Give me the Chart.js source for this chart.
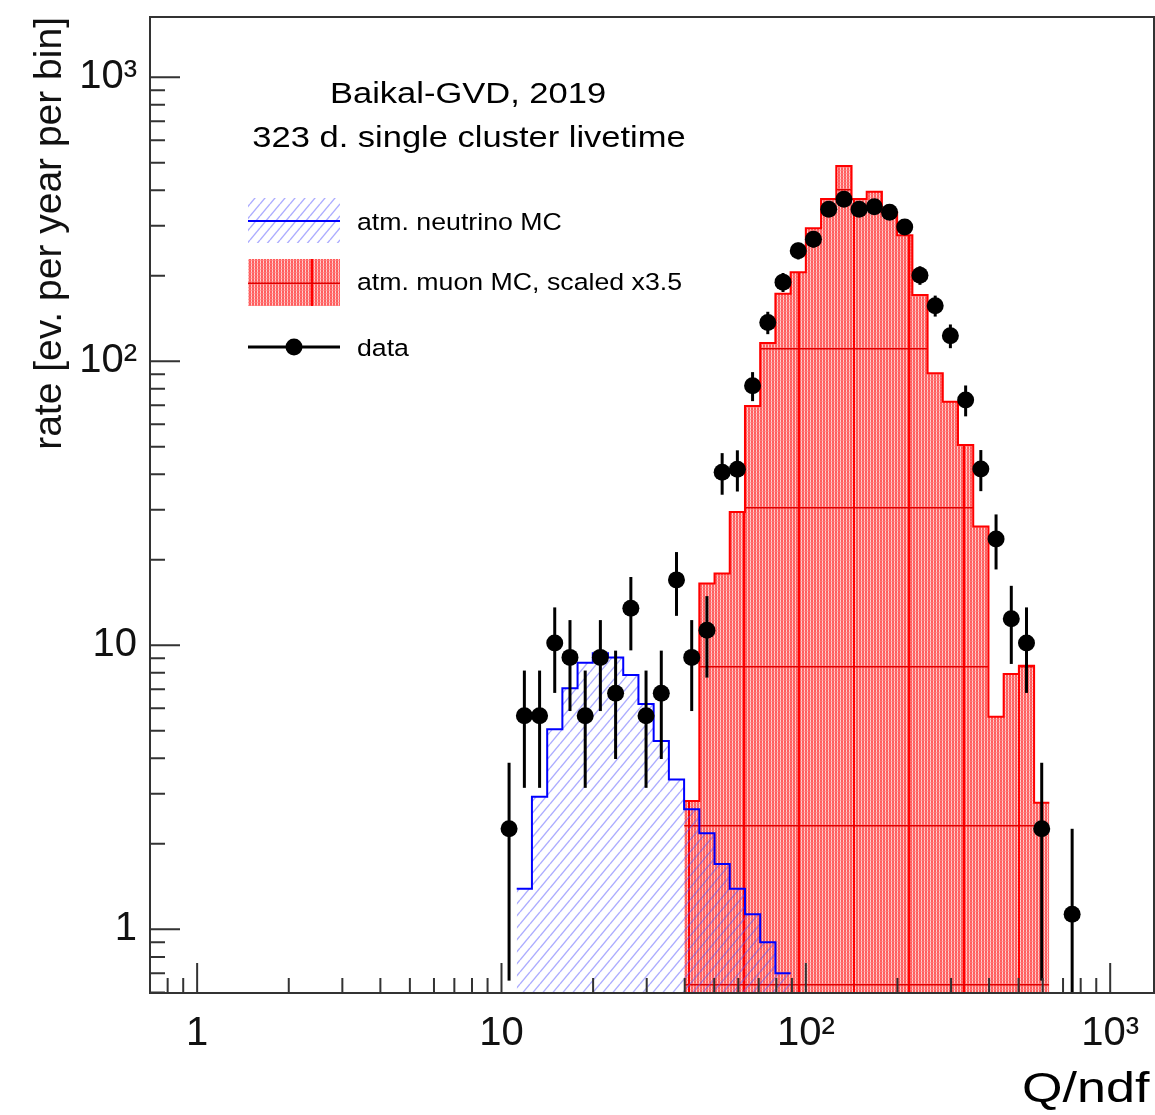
<!DOCTYPE html>
<html>
<head>
<meta charset="utf-8">
<script src="https://cdn.jsdelivr.net/npm/chart.js@4.4.0/dist/chart.umd.min.js"></script>
<style>
  html, body { margin: 0; padding: 0; background: #fff; }
  #wrap { width: 1155px; height: 1115px; }
</style>
</head>
<body>
<div id="wrap"><canvas id="chart" width="1155" height="1115"></canvas></div>
<script>
// bin edges (log-spaced, 0.05 decade) for the two MC histograms
const nuEdges = [11.22, 12.59, 14.13, 15.85, 17.78, 19.95, 22.39, 25.12, 28.18, 31.62,
                 35.48, 39.81, 44.67, 50.12, 56.23, 63.10, 70.79, 79.43, 89.13];
const nuRate  = [1.39, 2.93, 5.06, 7.06, 8.69, 9.37, 9.07, 7.86, 6.21, 4.60,
                 3.37, 2.65, 2.18, 1.70, 1.39, 1.13, 0.90, 0.70];

const muEdges = [39.81, 44.67, 50.12, 56.23, 63.10, 70.79, 79.43, 89.13, 100.0, 112.2,
                 125.9, 141.3, 158.5, 177.8, 199.5, 223.9, 251.2, 281.8, 316.2, 354.8,
                 398.1, 446.7, 501.2, 562.3, 631.0];
const muRate  = [2.83, 16.5, 17.9, 29.5, 69.6, 116, 173, 206, 294, 373,
                 487, 373, 395, 335, 278, 171, 90.7, 72.1, 50.7, 26.2,
                 5.6, 7.93, 8.48, 2.79];

// data points at bin centres
const qCenters = [10.59, 11.89, 13.34, 14.96, 16.79, 18.84, 21.13, 23.71, 26.61, 29.85,
                  33.50, 37.58, 42.17, 47.32, 53.09, 59.57, 66.83, 74.99, 84.14, 94.41,
                  105.9, 118.9, 133.4, 149.6, 167.9, 188.4, 211.3, 237.1, 266.1, 298.5,
                  335.0, 375.8, 421.7, 473.2, 530.9, 595.7, 668.3, 749.9];
const dataRate = [2.26, 5.65, 5.65, 10.2, 9.07, 5.65, 9.07, 6.78, 13.5, 5.65,
                  6.78, 17.0, 9.07, 11.3, 40.7, 41.7, 82, 137, 190, 245,
                  269, 343, 372, 343, 350, 335, 297, 201, 157, 123,
                  73.1, 41.8, 23.7, 12.4, 10.2, 2.26, null, 1.13];
const dataErr  = [1.6, 2.5, 2.5, 3.4, 3.2, 2.5, 3.2, 2.8, 3.9, 2.5,
                  2.8, 4.3, 3.2, 3.6, 6.8, 6.9, 9.6, 12.4, 14.6, 16.6,
                  17.4, 19.7, 20.5, 19.7, 19.9, 19.5, 18.3, 15.1, 13.3, 11.8,
                  9.1, 6.9, 5.2, 3.8, 3.4, 1.6, null, 1.13];

const xTicks = [1, 10, 100, 1000];
const xTickLabels = ['1', '10', '10²', '10³'];
const yTicks = [1, 10, 100, 1000];
const yTickLabels = ['1', '10', '10²', '10³'];

const headerLines = ['Baikal-GVD, 2019', '323 d. single cluster livetime'];
const legendLabels = ['atm. neutrino MC', 'atm. muon MC, scaled x3.5', 'data'];

const FONT = '"Liberation Sans", Arial, Helvetica, sans-serif';

function stepPoints(edges, vals) {
    const pts = vals.map((v, i) => ({ x: edges[i], y: v }));
    pts.push({ x: edges[edges.length - 1], y: vals[vals.length - 1] });
    return pts;
}

// fine red "weave" texture like the ROOT fill
function texture(g, w, h) {
    const img = g.createImageData(w, h);
    for (let y = 0; y < h; y++) {
        for (let x = 0; x < w; x++) {
            const i = (y * w + x) * 4;
            let gb = (x % 3 === 2) ? 205 : 92;
            if (y % 3 === 2) gb = (x % 3 === 2) ? 160 : 115;
            img.data[i] = 255; img.data[i + 1] = gb; img.data[i + 2] = gb; img.data[i + 3] = 255;
        }
    }
    g.putImageData(img, 0, 0);
}

function muonPattern(ctx, withGrid) {
    const c = document.createElement('canvas');
    c.width = withGrid ? 165 : 6;
    c.height = withGrid ? 159 : 6;
    const g = c.getContext('2d');
    texture(g, c.width, c.height);
    if (withGrid) {
        g.fillStyle = '#ff0000';
        [0, 55, 110].forEach(x => g.fillRect(x, 0, 2, c.height));
        g.fillStyle = '#e00000';
        g.fillRect(0, 0, c.width, 1.5);
    }
    const p = ctx.createPattern(c, 'repeat');
    if (withGrid) p.setTransform(new DOMMatrix().translate(28, 30));
    return p;
}

function hatchPattern(ctx) {
    const c = document.createElement('canvas');
    c.width = 10; c.height = 12;
    const g = c.getContext('2d');
    g.strokeStyle = 'rgba(90, 90, 255, 0.5)';
    g.lineWidth = 1.4;
    [-10, 0, 10].forEach(dx => {
        g.beginPath();
        g.moveTo(dx, 12);
        g.lineTo(dx + 10, 0);
        g.stroke();
    });
    return ctx.createPattern(c, 'repeat');
}

const canvas = document.getElementById('chart');
const ctx = canvas.getContext('2d');
const muFill = muonPattern(ctx, true);
const muSwatch = muonPattern(ctx, false);
const nuFill = hatchPattern(ctx);

function stretchedText(g, text, x, y, size, sx, align) {
    g.save();
    g.font = size + 'px ' + FONT;
    g.fillStyle = '#000';
    g.textBaseline = 'alphabetic';
    const w = g.measureText(text).width * sx;
    let left = x;
    if (align === 'center') left = x - w / 2;
    g.translate(left, y);
    g.scale(sx, 1);
    g.fillText(text, 0, 0);
    g.restore();
}

function noPadding(s) {
    s.paddingTop = 0;
    s.paddingBottom = 0;
    s.paddingLeft = 0;
    s.paddingRight = 0;
}

const rootDecor = {
    id: 'rootDecor',
    afterDatasetsDraw(chart) {
        const g = chart.ctx;
        const a = chart.chartArea;
        const xs = chart.scales.x;
        const ys = chart.scales.y;

        // error bars
        g.save();
        g.beginPath();
        g.rect(a.left, a.top, a.right - a.left, a.bottom - a.top);
        g.clip();
        g.strokeStyle = '#000';
        g.lineWidth = 3;
        qCenters.forEach((q, i) => {
            if (dataRate[i] == null) return;
            const px = xs.getPixelForValue(q);
            const lo = dataRate[i] - dataErr[i];
            const yLo = lo > 0 ? ys.getPixelForValue(lo) : a.bottom;
            const yHi = ys.getPixelForValue(dataRate[i] + dataErr[i]);
            g.beginPath();
            g.moveTo(px, Math.min(yLo, a.bottom));
            g.lineTo(px, yHi);
            g.stroke();
        });
        g.restore();

        // frame and inward ticks
        g.save();
        g.strokeStyle = '#333';
        g.lineWidth = 2;
        g.strokeRect(a.left, a.top, a.right - a.left, a.bottom - a.top);
        g.beginPath();
        for (let d = -1; d <= 3; d++) {
            for (let m = 1; m <= 9; m++) {
                const v = m * Math.pow(10, d);
                const len = m === 1 ? 30 : 15;
                if (v >= xs.min && v <= xs.max) {
                    const px = xs.getPixelForValue(v);
                    g.moveTo(px, a.bottom);
                    g.lineTo(px, a.bottom - len);
                }
                if (v >= ys.min && v <= ys.max) {
                    const py = ys.getPixelForValue(v);
                    g.moveTo(a.left, py);
                    g.lineTo(a.left + len, py);
                }
            }
        }
        g.stroke();
        g.restore();
    },
    afterDraw(chart) {
        const g = chart.ctx;
        // header
        stretchedText(g, headerLines[0], 468, 103, 30, 1.15, 'center');
        stretchedText(g, headerLines[1], 469, 147, 30, 1.15, 'center');

        // legend swatches
        g.save();
        g.fillStyle = nuFill;
        g.fillRect(248, 198, 92, 45);
        g.strokeStyle = '#0000ff';
        g.lineWidth = 2;
        g.beginPath(); g.moveTo(248, 221); g.lineTo(340, 221); g.stroke();

        g.fillStyle = muSwatch;
        g.fillRect(248, 259, 92, 47);
        g.fillStyle = '#ff0000';
        g.fillRect(311, 259, 2, 47);
        g.fillStyle = '#e00000';
        g.fillRect(248, 282.5, 92, 1.5);

        g.strokeStyle = '#000';
        g.lineWidth = 3;
        g.beginPath(); g.moveTo(248, 347); g.lineTo(340, 347); g.stroke();
        g.fillStyle = '#000';
        g.beginPath(); g.arc(294, 347, 8.5, 0, Math.PI * 2); g.fill();
        g.restore();

        stretchedText(g, legendLabels[0], 357, 230, 24.5, 1.09, 'left');
        stretchedText(g, legendLabels[1], 357, 290, 24.5, 1.09, 'left');
        stretchedText(g, legendLabels[2], 357, 356, 24.5, 1.09, 'left');

        // x axis title
        stretchedText(g, 'Q/ndf', 1022, 1102, 42, 1.24, 'left');
    }
};

new Chart(ctx, {
    type: 'scatter',
    data: {
        datasets: [
            {
                label: legendLabels[2],
                data: qCenters.map((q, i) => ({ x: q, y: dataRate[i] })),
                pointRadius: 8.5,
                pointHoverRadius: 8.5,
                pointBackgroundColor: '#000',
                pointBorderWidth: 0,
                showLine: false
            },
            {
                label: legendLabels[0],
                type: 'line',
                data: stepPoints(nuEdges, nuRate),
                stepped: 'before',
                borderColor: '#0000ff',
                borderWidth: 2,
                backgroundColor: nuFill,
                fill: 'start',
                pointRadius: 0
            },
            {
                label: legendLabels[1],
                type: 'line',
                data: stepPoints(muEdges, muRate),
                stepped: 'before',
                borderColor: '#ff0000',
                borderWidth: 2,
                backgroundColor: muFill,
                fill: 'start',
                pointRadius: 0
            }
        ]
    },
    options: {
        responsive: false,
        animation: false,
        devicePixelRatio: 1,
        layout: { autoPadding: false, padding: { top: 17, right: 1, left: 0, bottom: 0 } },
        plugins: {
            legend: { display: false },
            tooltip: { enabled: false }
        },
        scales: {
            x: {
                type: 'logarithmic',
                position: 'bottom',
                min: 0.712,
                max: 1393,
                grid: { display: false, drawTicks: true, tickLength: 17 },
                border: { display: false },
                afterBuildTicks: s => { s.ticks = xTicks.map(v => ({ value: v })); },
                afterFit: s => { s.height = 122; noPadding(s); },
                ticks: {
                    autoSkip: false,
                    maxRotation: 0,
                    padding: 0,
                    color: '#111',
                    font: { family: FONT, size: 40 },
                    callback: (v, i) => xTickLabels[i]
                }
            },
            y: {
                type: 'logarithmic',
                position: 'left',
                min: 0.597,
                max: 1630,
                grid: { display: false, drawTicks: false, tickLength: 0 },
                border: { display: false },
                afterBuildTicks: s => { s.ticks = yTicks.map(v => ({ value: v })); },
                afterFit: s => { s.width = 150; noPadding(s); },
                ticks: {
                    autoSkip: false,
                    padding: 13,
                    color: '#111',
                    font: { family: FONT, size: 40 },
                    callback: (v, i) => yTickLabels[i]
                },
                title: {
                    display: true,
                    text: 'rate [ev. per year per bin]',
                    align: 'end',
                    color: '#111',
                    font: { family: FONT, size: 39 },
                    padding: { top: 27, bottom: 0 }
                }
            }
        }
    },
    plugins: [rootDecor]
});
</script>
</body>
</html>
